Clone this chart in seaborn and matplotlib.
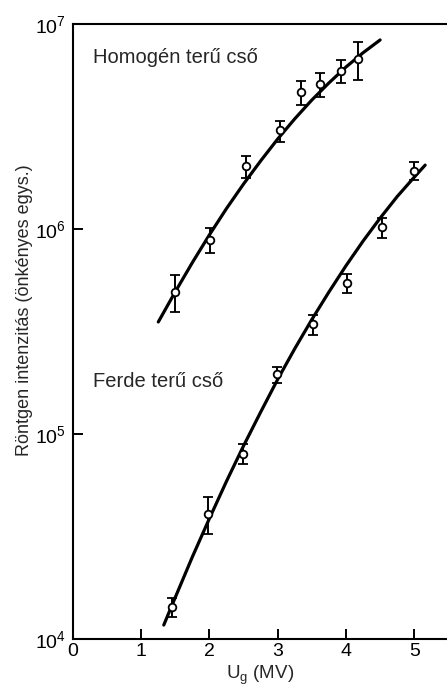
import numpy as np
import pandas as pd
import seaborn as sns
import matplotlib
matplotlib.use('Agg')
import matplotlib.pyplot as plt
from matplotlib.ticker import LogLocator, NullLocator

# measured points, homogeneous field tube
hom_x = [1.50, 2.01, 2.54, 3.03, 3.34, 3.62, 3.92, 4.17]
hom_y = [4.93e5, 8.8e5, 2.03e6, 3.04e6, 4.66e6, 5.09e6, 5.9e6, 6.74e6]
hom_lo = [3.94e5, 7.6e5, 1.77e6, 2.65e6, 4.03e6, 4.41e6, 5.15e6, 5.33e6]
hom_hi = [5.97e5, 1.01e6, 2.27e6, 3.36e6, 5.27e6, 5.77e6, 6.67e6, 8.16e6]

# measured points, inclined field tube
fer_x = [1.45, 1.98, 2.49, 2.99, 3.51, 4.01, 4.53, 5.00]
fer_y = [1.43e4, 4.07e4, 7.98e4, 1.96e5, 3.44e5, 5.46e5, 1.02e6, 1.92e6]
fer_lo = [1.28e4, 3.25e4, 7.14e4, 1.77e5, 3.04e5, 4.88e5, 9.04e5, 1.73e6]
fer_hi = [1.58e4, 4.93e4, 8.93e4, 2.12e5, 3.80e5, 6.03e5, 1.13e6, 2.12e6]

# fitted curves as drawn in the figure
hom_curve_x = [1.25, 1.5, 1.75, 2.0, 2.25, 2.5, 2.75, 3.0, 3.25, 3.5, 3.75, 4.0, 4.25, 4.5]
hom_curve_y = [3.52e5, 4.95e5, 6.87e5, 9.38e5, 1.26e6, 1.66e6, 2.15e6, 2.75e6,
               3.45e6, 4.26e6, 5.16e6, 6.17e6, 7.24e6, 8.36e6]
fer_curve_x = [1.33, 1.5, 1.75, 2.0, 2.25, 2.5, 2.75, 3.0, 3.25, 3.5, 3.75, 4.0,
               4.25, 4.5, 4.75, 5.0, 5.16]
fer_curve_y = [1.17e4, 1.60e4, 2.52e4, 3.88e4, 5.89e4, 8.77e4, 1.28e5, 1.85e5,
               2.61e5, 3.62e5, 4.93e5, 6.62e5, 8.73e5, 1.13e6, 1.44e6, 1.79e6, 2.05e6]

labels = ['Homogén terű cső', 'Ferde terű cső']
xlabel = 'U$_\\mathregular{g}$ (MV)'
ylabel = 'Röntgen intenzitás (önkényes egys.)'

sns.set_style('ticks')
plt.rcParams['font.family'] = ['Liberation Sans', 'DejaVu Sans']
plt.rcParams['mathtext.fontset'] = 'custom'
plt.rcParams['mathtext.rm'] = 'Liberation Sans'
plt.rcParams['mathtext.it'] = 'Liberation Sans'

fig = plt.figure(figsize=(4.47, 6.9), dpi=100)
ax = fig.add_axes([0.1633, 0.0739, 0.8367, 0.8913])

curves = pd.concat([
    pd.DataFrame({'x': hom_curve_x, 'y': hom_curve_y, 'tube': labels[0]}),
    pd.DataFrame({'x': fer_curve_x, 'y': fer_curve_y, 'tube': labels[1]}),
])
sns.lineplot(data=curves, x='x', y='y', units='tube', estimator=None,
             color='black', linewidth=2.3, ax=ax, legend=False)

for xs, ys, lo, hi in [(hom_x, hom_y, hom_lo, hom_hi), (fer_x, fer_y, fer_lo, fer_hi)]:
    ys = np.array(ys)
    err = [ys - np.array(lo), np.array(hi) - ys]
    ax.errorbar(xs, ys, yerr=err, fmt='o', color='black', mfc='white', mec='black',
                ms=5.5, mew=1.3, elinewidth=1.4, capsize=3.5, capthick=1.4, zorder=5)

ax.set_yscale('log')
ax.set_xlim(0, 5.48)
ax.set_ylim(1e4, 1e7)
ax.set_xticks([0, 1, 2, 3, 4, 5])
ax.yaxis.set_major_locator(LogLocator(base=10, numticks=10))
ax.yaxis.set_minor_locator(NullLocator())

ax.text(0.29, 6.9e6, labels[0], fontsize=14.5, va='center', ha='left')
ax.text(0.29, 1.8e5, labels[1], fontsize=14.5, va='center', ha='left')

ax.set_xlabel(xlabel, fontsize=13.5)
ax.set_ylabel(ylabel, fontsize=13)
ax.xaxis.set_label_coords(0.5, -0.040)
ax.yaxis.set_label_coords(-0.107, 0.535)

for s in ['top', 'left', 'bottom']:
    ax.spines[s].set_linewidth(1.5)
    ax.spines[s].set_color('black')
ax.spines['right'].set_visible(False)
ax.tick_params(axis='both', direction='in', length=7, width=1.4, labelsize=14,
               colors='black')
ax.tick_params(axis='x', pad=3)
ax.tick_params(axis='y', pad=5)

fig.savefig('out.png', dpi=100)
